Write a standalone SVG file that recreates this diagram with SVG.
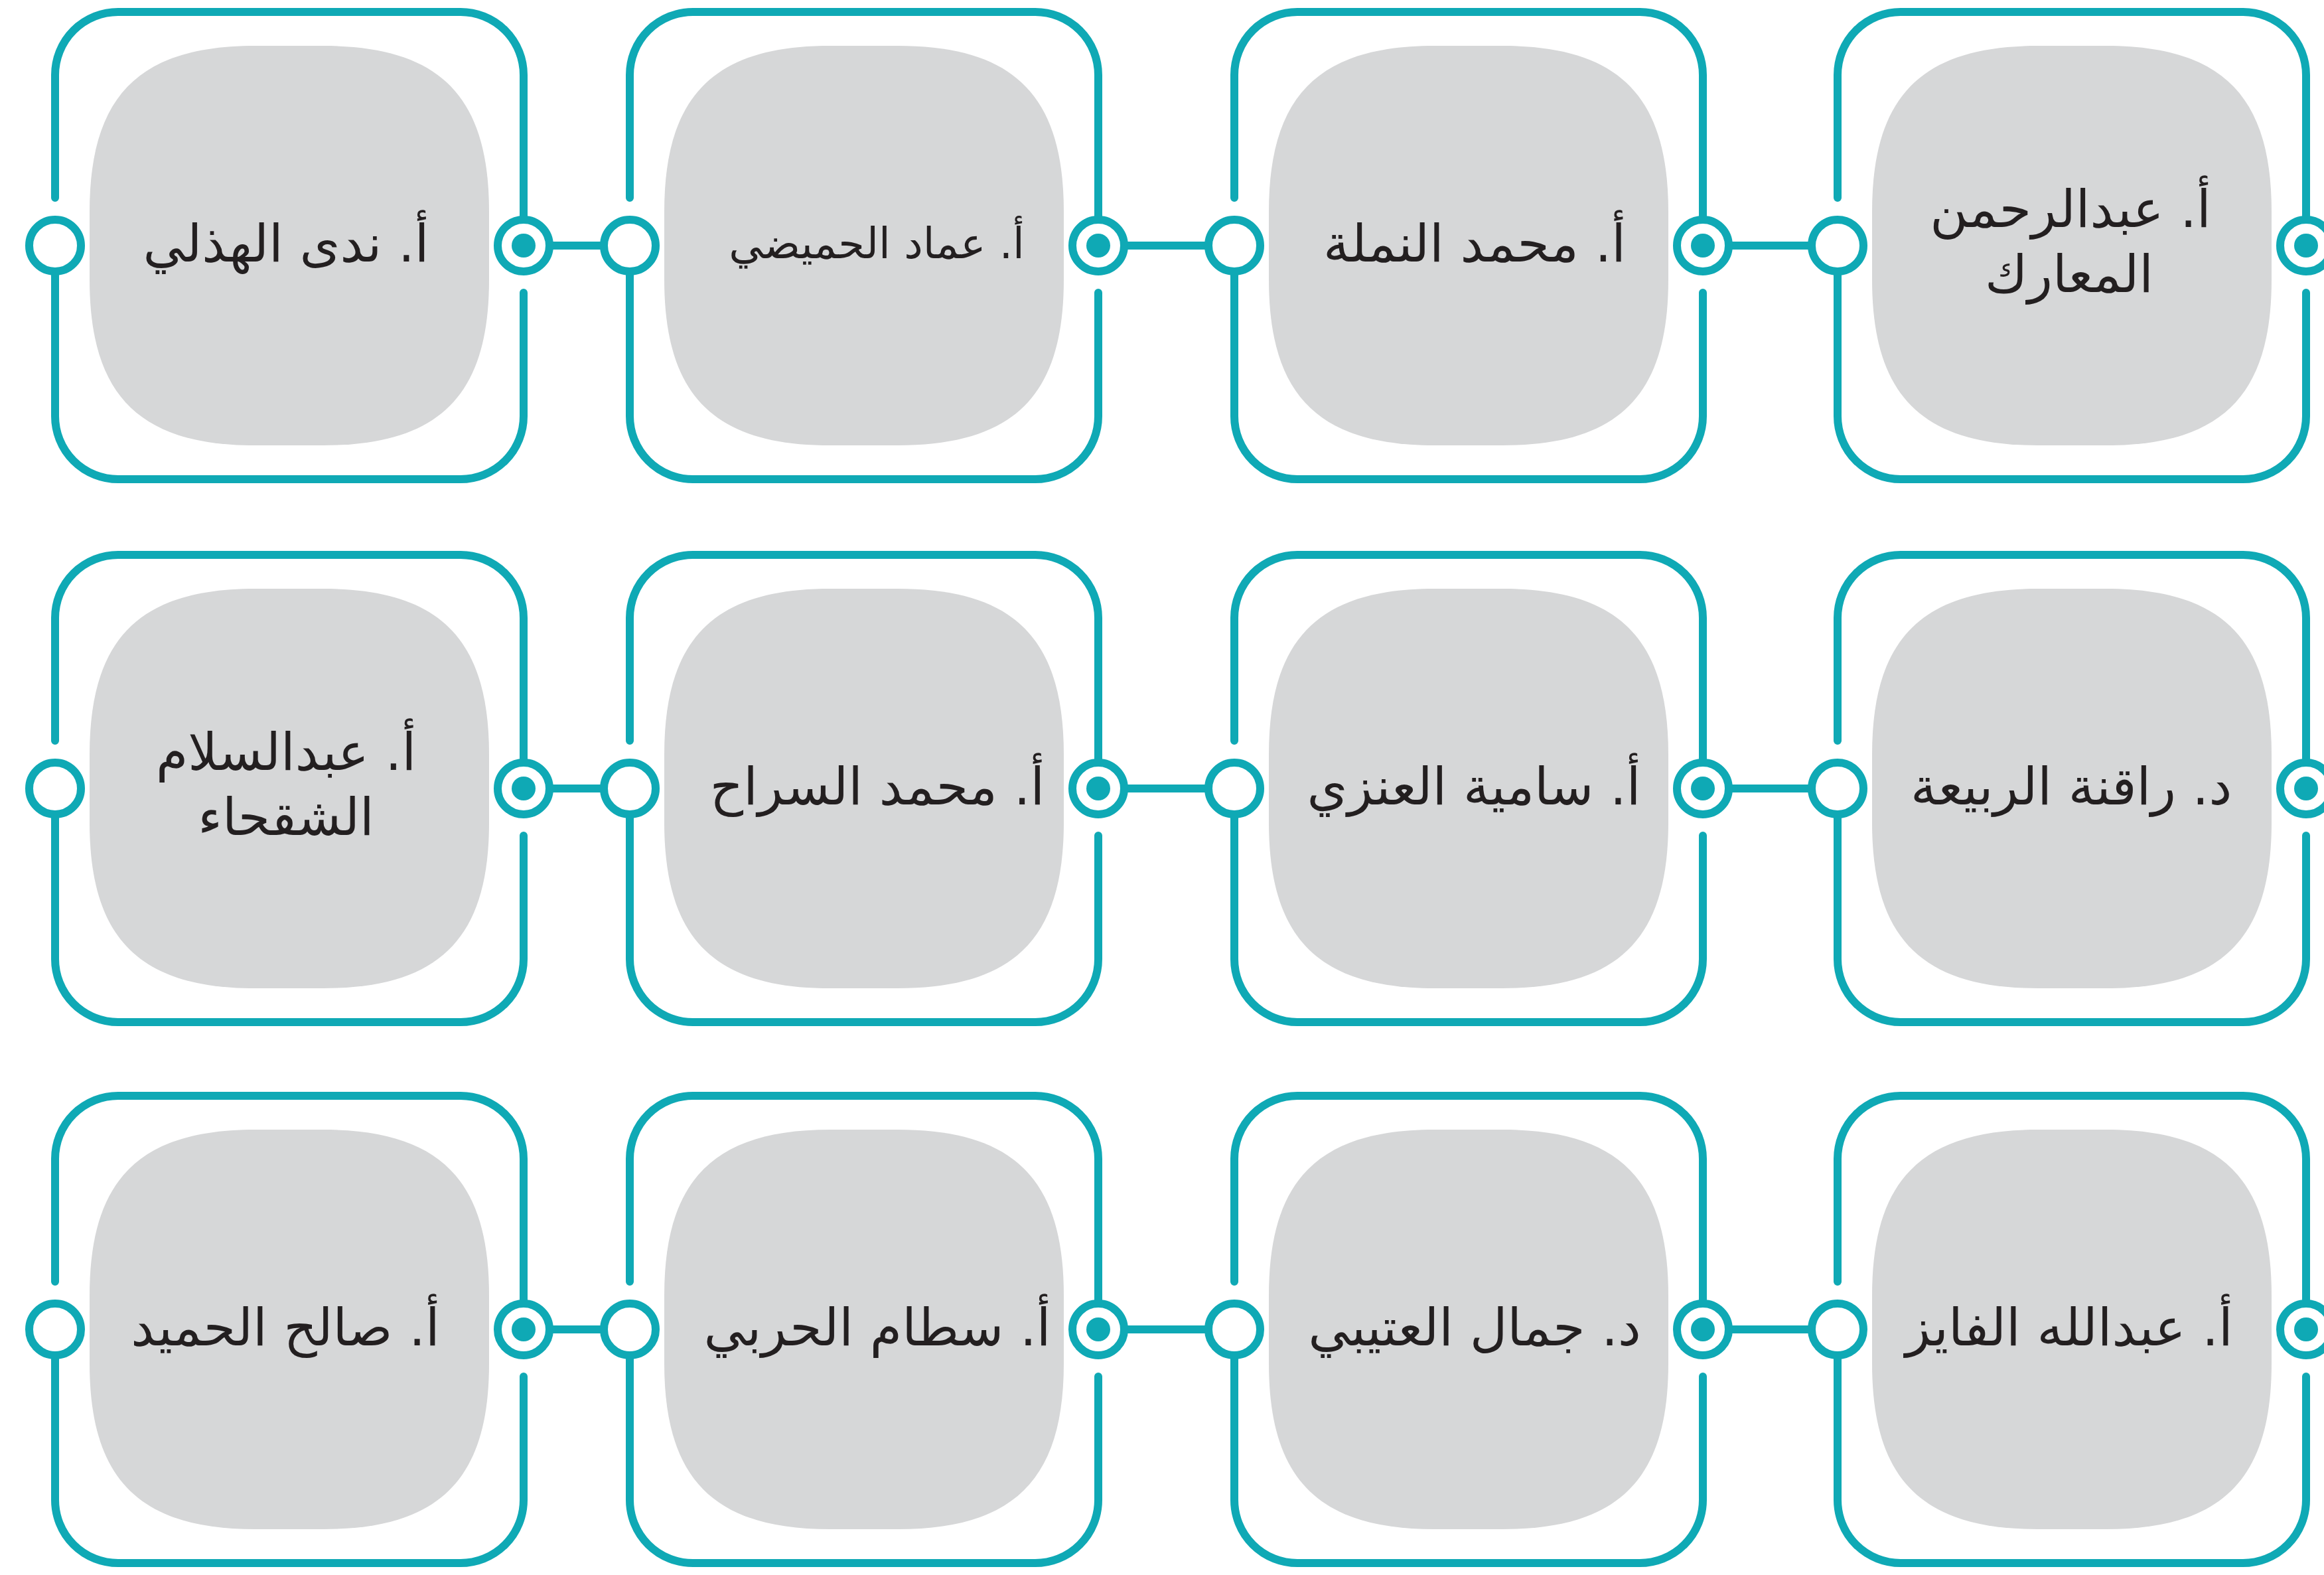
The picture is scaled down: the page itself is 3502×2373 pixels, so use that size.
<svg xmlns="http://www.w3.org/2000/svg" xmlns:xlink="http://www.w3.org/1999/xlink" width="3502" height="2373" viewBox="0 0 3502 2373">
<style>
.frame{fill:none;stroke:#0fa9b5;stroke-width:12;stroke-linecap:round}
.ring{fill:#ffffff;stroke:#0fa9b5;stroke-width:12}
.dot{fill:#0fa9b5}
.conn{stroke:#0fa9b5;stroke-width:12}
.blob{fill:#d6d7d8}
.lbl{font-family:"DejaVu Sans","Noto Sans",sans-serif;font-size:78px;fill:#231f20;text-anchor:middle;direction:rtl}
.sm{font-size:64px}
</style>
<defs>
<path id="sq" d="M -51,-301 L 51,-301 C 226,-301 301,-226 301,-51 L 301,51 C 301,226 226,301 51,301 L -51,301 C -226,301 -301,226 -301,51 L -301,-51 C -301,-226 -226,-301 -51,-301 Z"/>
<path id="fr" d="M -353,-72 L -353,-257 A 95 95 0 0 1 -258,-352 L 258,-352 A 95 95 0 0 1 353,-257 L 353,-39 M 353,71 L 353,257 A 95 95 0 0 1 258,352 L -258,352 A 95 95 0 0 1 -353,257 L -353,39"/>
<g id="ports">
<circle class="ring" cx="-353" cy="0" r="39"/>
<circle class="ring" cx="353" cy="0" r="39"/>
<circle class="dot" cx="353" cy="0" r="18"/>
</g>
</defs>
<rect width="3502" height="2373" fill="#ffffff"/>

<g id="connectors">
<line class="conn" x1="828" y1="370" x2="910" y2="370"/>
<line class="conn" x1="1694" y1="370" x2="1821" y2="370"/>
<line class="conn" x1="2605" y1="370" x2="2730" y2="370"/>
<line class="conn" x1="828" y1="1188" x2="910" y2="1188"/>
<line class="conn" x1="1694" y1="1188" x2="1821" y2="1188"/>
<line class="conn" x1="2605" y1="1188" x2="2730" y2="1188"/>
<line class="conn" x1="828" y1="2003" x2="910" y2="2003"/>
<line class="conn" x1="1694" y1="2003" x2="1821" y2="2003"/>
<line class="conn" x1="2605" y1="2003" x2="2730" y2="2003"/>
</g>

<!-- Row 1 -->
<g id="node-r1c1" transform="translate(436,370)">
<use xlink:href="#fr" class="frame"/><use xlink:href="#sq" class="blob"/><use xlink:href="#ports"/>
<text class="lbl" x="-5" y="24">أ. ندى الهذلي</text>
</g>
<g id="node-r1c2" transform="translate(1302,370)">
<use xlink:href="#fr" class="frame"/><use xlink:href="#sq" class="blob"/><use xlink:href="#ports"/>
<text class="lbl sm" x="19" y="19">أ. عماد الحميضي</text>
</g>
<g id="node-r1c3" transform="translate(2213,370)">
<use xlink:href="#fr" class="frame"/><use xlink:href="#sq" class="blob"/><use xlink:href="#ports"/>
<text class="lbl" x="9" y="24">أ. محمد النملة</text>
</g>
<g id="node-r1c4" transform="translate(3122,370)">
<use xlink:href="#fr" class="frame"/><use xlink:href="#sq" class="blob"/><use xlink:href="#ports"/>
<text class="lbl" x="-2" y="-28">أ. عبدالرحمن</text>
<text class="lbl" x="-4" y="70">المعارك</text>
</g>

<!-- Row 2 -->
<g id="node-r2c1" transform="translate(436,1188)">
<use xlink:href="#fr" class="frame"/><use xlink:href="#sq" class="blob"/><use xlink:href="#ports"/>
<text class="lbl" x="-5" y="-28">أ. عبدالسلام</text>
<text class="lbl" x="-5" y="70">الشقحاء</text>
</g>
<g id="node-r2c2" transform="translate(1302,1188)">
<use xlink:href="#fr" class="frame"/><use xlink:href="#sq" class="blob"/><use xlink:href="#ports"/>
<text class="lbl" x="20" y="24">أ. محمد السراح</text>
</g>
<g id="node-r2c3" transform="translate(2213,1188)">
<use xlink:href="#fr" class="frame"/><use xlink:href="#sq" class="blob"/><use xlink:href="#ports"/>
<text class="lbl" x="8" y="24">أ. سامية العنزي</text>
</g>
<g id="node-r2c4" transform="translate(3122,1188)">
<use xlink:href="#fr" class="frame"/><use xlink:href="#sq" class="blob"/><use xlink:href="#ports"/>
<text class="lbl" x="-1" y="24">د. راقنة الربيعة</text>
</g>

<!-- Row 3 -->
<g id="node-r3c1" transform="translate(436,2003)">
<use xlink:href="#fr" class="frame"/><use xlink:href="#sq" class="blob"/><use xlink:href="#ports"/>
<text class="lbl" x="-6" y="24">أ. صالح الحميد</text>
</g>
<g id="node-r3c2" transform="translate(1302,2003)">
<use xlink:href="#fr" class="frame"/><use xlink:href="#sq" class="blob"/><use xlink:href="#ports"/>
<text class="lbl" x="20" y="24">أ. سطام الحربي</text>
</g>
<g id="node-r3c3" transform="translate(2213,2003)">
<use xlink:href="#fr" class="frame"/><use xlink:href="#sq" class="blob"/><use xlink:href="#ports"/>
<text class="lbl" x="9" y="24">د. جمال العتيبي</text>
</g>
<g id="node-r3c4" transform="translate(3122,2003)">
<use xlink:href="#fr" class="frame"/><use xlink:href="#sq" class="blob"/><use xlink:href="#ports"/>
<text class="lbl" x="-4" y="24">أ. عبدالله الفايز</text>
</g>
</svg>
